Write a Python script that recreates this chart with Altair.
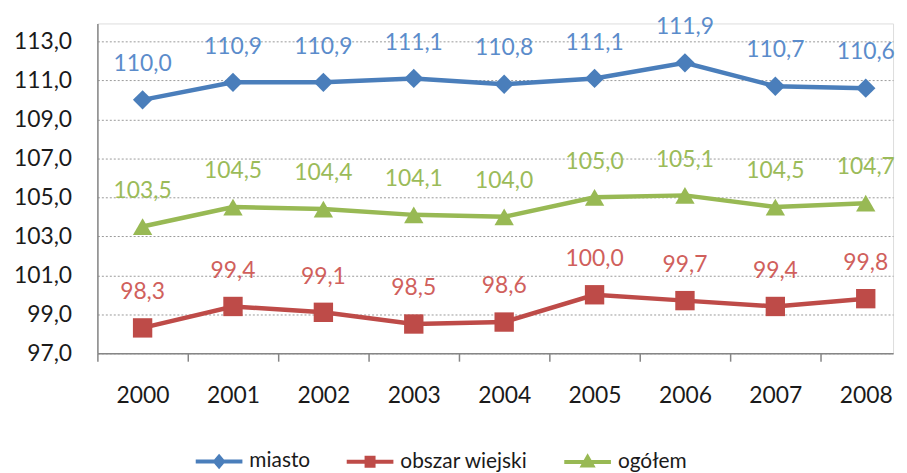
import altair as alt
import pandas as pd

years = [2000, 2001, 2002, 2003, 2004, 2005, 2006, 2007, 2008]
miasto = [110.0, 110.9, 110.9, 111.1, 110.8, 111.1, 111.9, 110.7, 110.6]
obszar_wiejski = [98.3, 99.4, 99.1, 98.5, 98.6, 100.0, 99.7, 99.4, 99.8]
ogolem = [103.5, 104.5, 104.4, 104.1, 104.0, 105.0, 105.1, 104.5, 104.7]
series = ["miasto", "obszar wiejski", "ogółem"]
y_ticks = [97, 99, 101, 103, 105, 107, 109, 111, 113]

line_colors = ["#4A7EBB", "#BE4B48", "#98B954"]
label_colors = ["#5B8CCB", "#D0605C", "#9BBB59"]
shapes = ["diamond", "square", "triangle-up"]
legend_shapes = [
    "M-1,0H1M0,-0.2L0.17,0L0,0.2L-0.17,0Z",
    "M-1,0H1M-0.15,-0.17H0.15V0.17H-0.15Z",
    "M-1,0H1M0,-0.2L0.2,0.15H-0.2Z",
]

rows = []
for name, vals in zip(series, [miasto, obszar_wiejski, ogolem]):
    for yr, v in zip(years, vals):
        rows.append({"year": yr, "value": v, "series": name,
                     "label": f"{v:.1f}".replace(".", ",")})
df = pd.DataFrame(rows)

FONT = "Lato"
x = alt.X("year:Q", scale=alt.Scale(domain=[1999.5, 2008.302], nice=False, zero=False),
          axis=alt.Axis(values=years, format="d", title=None, grid=False,
                        tickOffset=-45.5, labelOffset=45.5, tickSize=8,
                        labelPadding=24, labelFontSize=23, labelFont=FONT,
                        labelColor="#1a1a1a", domainColor="#868686", tickColor="#868686",
                        domainWidth=1.5, tickWidth=1.5))
y = alt.Y("value:Q", scale=alt.Scale(domain=[97, 113.92], nice=False, zero=False),
          axis=alt.Axis(values=y_ticks, title=None, grid=True, gridDash=[2, 2],
                        gridColor="#9a9a9a", gridWidth=1, ticks=False,
                        labelExpr="replace(format(datum.value, '.1f'), '.', ',')",
                        labelPadding=26, labelFontSize=23, labelFont=FONT,
                        labelColor="#1a1a1a", domainColor="#868686", domainWidth=1.5))

base = alt.Chart(df)

lines = base.mark_line(strokeWidth=4.5).encode(
    x=x, y=y,
    color=alt.Color("series:N", scale=alt.Scale(domain=series, range=line_colors), legend=None),
    detail="series:N",
)

points = base.mark_point(filled=True, size=380, opacity=1).encode(
    x=x, y=y,
    color=alt.Color("series:N", scale=alt.Scale(domain=series, range=line_colors), legend=None),
    shape=alt.Shape("series:N", scale=alt.Scale(domain=series, range=shapes), legend=None),
)

labels = base.mark_text(dy=-36, fontSize=23, font=FONT, baseline="middle", align="center").encode(
    x=x, y=y, text="label:N",
    color=alt.Color("series:N", scale=alt.Scale(domain=series, range=label_colors), legend=None),
)


def make_legend():
    return alt.Legend(title=None, orient="none", direction="horizontal",
                      legendX=97, legendY=415, symbolSize=2209,
                      symbolStrokeWidth=4, labelFont=FONT, labelFontSize=21,
                      labelColor="#1a1a1a", labelOffset=5, columnPadding=28,
                      symbolOpacity=1)


legend_layer = base.transform_filter("false").mark_point(filled=False, strokeWidth=4, opacity=1).encode(
    x=x, y=y,
    color=alt.Color("series:N", scale=alt.Scale(domain=series, range=line_colors), legend=make_legend()),
    fill=alt.Fill("series:N", scale=alt.Scale(domain=series, range=line_colors), legend=make_legend()),
    shape=alt.Shape("series:N", scale=alt.Scale(domain=series, range=legend_shapes), legend=make_legend()),
)

chart = alt.layer(lines, points, labels, legend_layer).resolve_scale(
    color="independent", shape="independent", fill="independent"
).properties(
    width=801, height=332,
    autosize=alt.AutoSizeParams(type="none"),
    padding={"left": 90, "top": 14, "right": 6, "bottom": 119},
).configure_view(stroke=None).configure(background="white")

chart.save("out.html", embed_options={"renderer": "svg", "actions": False})
